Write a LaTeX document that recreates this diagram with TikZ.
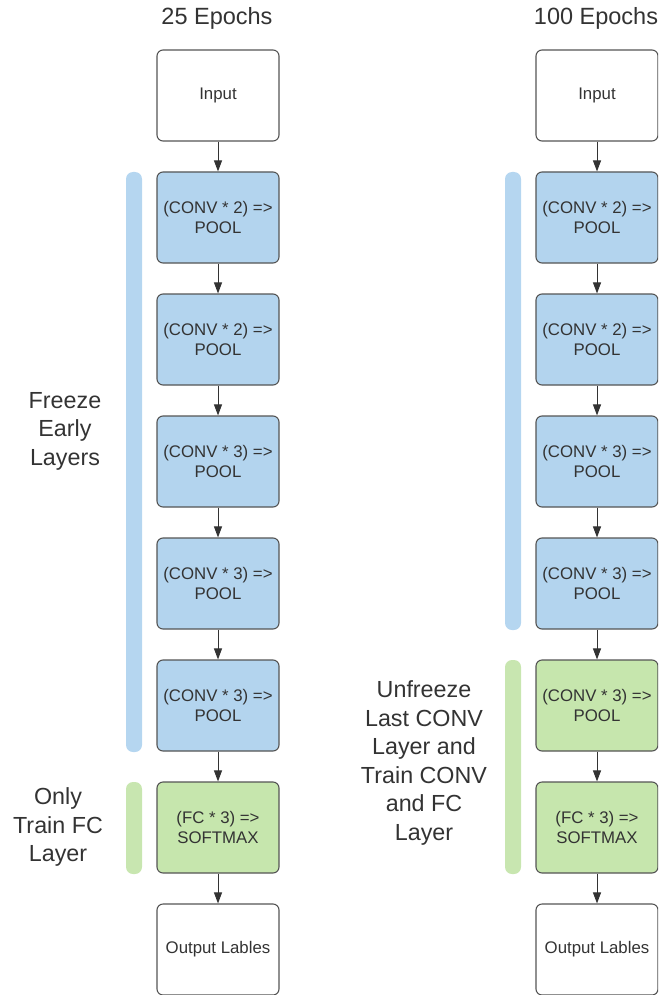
\documentclass[tikz,border=0pt]{standalone}
\usepackage{fontspec}
\setmainfont{Liberation Sans}
\usetikzlibrary{arrows.meta}
\definecolor{txt}{HTML}{333333}
\definecolor{edge}{HTML}{555555}
\definecolor{frozen}{HTML}{B3D4EE}
\definecolor{trained}{HTML}{C6E6AD}
\definecolor{frozenbar}{HTML}{B5D6F0}
\definecolor{trainedbar}{HTML}{C8E6B0}
\tikzset{
  layer/.style={draw=edge, line width=1.1pt, rounded corners=6pt,
    minimum width=122pt, minimum height=91pt, inner sep=2pt,
    align=center, text=txt, font=\fontsize{16.8}{20.5}\selectfont},
  plainlayer/.style={layer, fill=white},
  frozenlayer/.style={layer, fill=frozen},
  trainedlayer/.style={layer, fill=trained},
  flow/.style={draw=txt, line width=1pt, -{Triangle[width=8pt,length=11pt]}},
  bar/.style={rounded corners=7pt},
  heading/.style={text=txt, font=\fontsize{23.5}{27}\selectfont},
  note/.style={text=txt, align=center, font=\fontsize{23.3}{28.5}\selectfont}
}
\begin{document}
\begin{tikzpicture}[x=1pt,y=-1pt]
\useasboundingbox (0,0) rectangle (658,995);
\clip (0,0) rectangle (658,995);

% headings
\node[heading] (hA) at (217,18) {25 Epochs};
\node[heading] (hB) at (596,18) {100 Epochs};

% left column: 25 epochs
\node[plainlayer]   (a0) at (218,95.5)  {Input};
\node[frozenlayer]  (a1) at (218,217.5) {(CONV * 2) =>\\POOL};
\node[frozenlayer]  (a2) at (218,339.5) {(CONV * 2) =>\\POOL};
\node[frozenlayer]  (a3) at (218,461.5) {(CONV * 3) =>\\POOL};
\node[frozenlayer]  (a4) at (218,583.5) {(CONV * 3) =>\\POOL};
\node[frozenlayer]  (a5) at (218,705.5) {(CONV * 3) =>\\POOL};
\node[trainedlayer] (a6) at (218,827.5) {(FC * 3) =>\\SOFTMAX};
\node[plainlayer]   (a7) at (218,949.5) {Output Lables};
\foreach \i/\j in {a0/a1,a1/a2,a2/a3,a3/a4,a4/a5,a5/a6,a6/a7}
  \draw[flow] (\i) -- (\j);

% right column: 100 epochs
\node[plainlayer]   (b0) at (597,95.5)  {Input};
\node[frozenlayer]  (b1) at (597,217.5) {(CONV * 2) =>\\POOL};
\node[frozenlayer]  (b2) at (597,339.5) {(CONV * 2) =>\\POOL};
\node[frozenlayer]  (b3) at (597,461.5) {(CONV * 3) =>\\POOL};
\node[frozenlayer]  (b4) at (597,583.5) {(CONV * 3) =>\\POOL};
\node[trainedlayer] (b5) at (597,705.5) {(CONV * 3) =>\\POOL};
\node[trainedlayer] (b6) at (597,827.5) {(FC * 3) =>\\SOFTMAX};
\node[plainlayer]   (b7) at (597,949.5) {Output Lables};
\foreach \i/\j in {b0/b1,b1/b2,b2/b3,b3/b4,b4/b5,b5/b6,b6/b7}
  \draw[flow] (\i) -- (\j);

% group bars
\fill[frozenbar, bar]  (126,172) rectangle (142,752);
\fill[trainedbar, bar] (126,782) rectangle (142,874);
\fill[frozenbar, bar]  (505,172) rectangle (521,630);
\fill[trainedbar, bar] (505,660) rectangle (521,874);

% group notes
\node[note] (nA) at (65,431) {Freeze\\Early\\Layers};
\node[note] (nB) at (58,827) {Only\\Train FC\\Layer};
\node[note] (nC) at (424,763) {Unfreeze\\Last CONV\\Layer and\\Train CONV\\and FC\\Layer};
\end{tikzpicture}
\end{document}
